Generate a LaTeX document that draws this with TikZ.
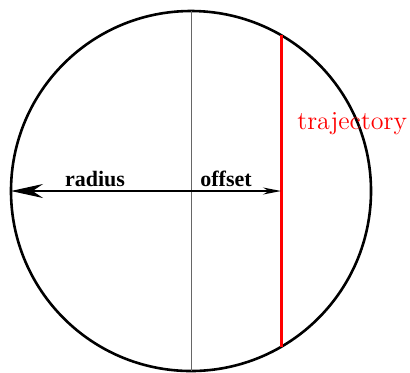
\documentclass[tikz,border=0pt]{standalone}
\usepackage{fontspec}
\newfontfamily\labelfont{Liberation Serif}
\usetikzlibrary{arrows.meta}

\begin{document}
\begin{tikzpicture}[x=0.5pt, y=0.5pt,
    lbl/.style={anchor=base, font=\labelfont\bfseries\fontsize{11}{13}\selectfont}]
  \useasboundingbox (-191,-181) rectangle (219,191);

  \coordinate (O) at (0,0);
  \coordinate (T) at (0,180);
  \coordinate (B) at (0,-180);
  \coordinate (L) at (-180,0);
  \coordinate (R) at (90,0);
  \coordinate (P) at (90,156);
  \coordinate (Q) at (90,-156);

  \draw[line width=1.3pt] (O) circle[radius=180];
  \draw[black!60, line width=0.5pt] (T) -- (B);
  \draw[red, line width=1.5pt] (P) -- (Q);

  \draw[-{Stealth[length=16pt,width=7pt]}, line width=0.6pt] (O) -- (L);
  \draw[-{Stealth[length=9pt,width=3.5pt]}, line width=0.6pt] (O) -- (R);

  \node[lbl] (radiuslabel) at (-96,5) {radius};
  \node[lbl] (offsetlabel) at (35,5) {offset};
  \node[anchor=base west, inner sep=0pt, red,
    font=\fontsize{13}{15}\selectfont] (trajlabel) at (106,62) {trajectory};
\end{tikzpicture}
\end{document}
